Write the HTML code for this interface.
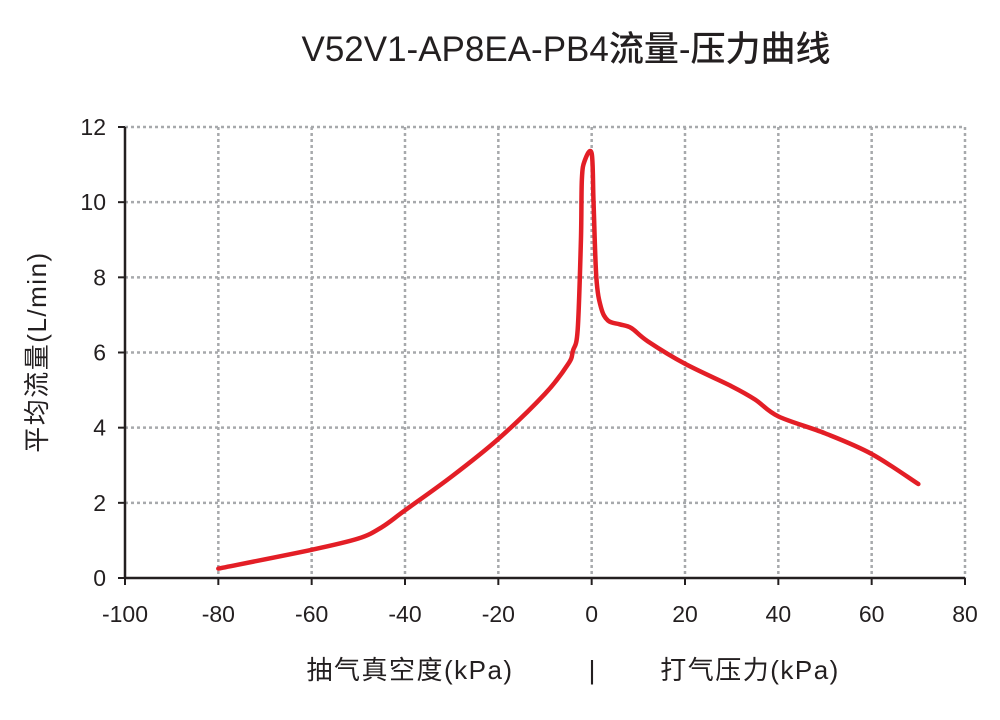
<!DOCTYPE html>
<html><head><meta charset="utf-8"><style>
body{margin:0;background:#fff}
svg text{font-family:"Liberation Sans","Noto Sans CJK SC",sans-serif;fill:#231f20}
</style></head><body>
<svg id="c" width="1000" height="715">
<text x="566" y="61" font-size="35" text-anchor="middle" font-weight="500">V52V1-AP8EA-PB4流量-压力曲线</text>
<g id="grid"></g><g id="axes"></g><g id="series"></g>
<text transform="translate(46,352) rotate(-90)" font-size="26" letter-spacing="1.5" text-anchor="middle">平均流量(L/min)</text>
<text x="410" y="679" font-size="26" letter-spacing="1.5" text-anchor="middle">抽气真空度(kPa)</text>
<text x="592" y="679" font-size="26" text-anchor="middle">|</text>
<text x="750" y="679" font-size="26" letter-spacing="1.5" text-anchor="middle">打气压力(kPa)</text>
</svg>
<script>
const xTicks=[-100,-80,-60,-40,-20,0,20,40,60,80];
const yTicks=[0,2,4,6,8,10,12];
const pressures=[-80,-60,-50,-45,-40,-30,-20,-10,-5,-4,-3,-2.3,-2.1,-1.5,0,0.4,1,2,3.5,6,8.5,12,20,30,35,40,50,60,70];
const flows=[0.25,0.75,1.05,1.35,1.8,2.7,3.7,4.9,5.7,6.05,6.6,9,10.6,11.1,11.3,10,8,7.2,6.85,6.75,6.65,6.3,5.7,5.1,4.75,4.3,3.85,3.3,2.5];
const NS='http://www.w3.org/2000/svg';
const X=v=>125+(v+100)*(965-125)/180;
const Y=v=>578-v*(578-127)/12;
function mk(t,a,p){const e=document.createElementNS(NS,t);for(const k in a)e.setAttribute(k,a[k]);p.appendChild(e);return e;}
const g=document.getElementById('grid'),ax=document.getElementById('axes'),s=document.getElementById('series');
xTicks.forEach(v=>{if(v>-100){const l=mk('line',{x1:X(v),x2:X(v),y1:Y(12),y2:Y(0),stroke:'#a7a9ac','stroke-width':2.5,'stroke-dasharray':'3 3'},g);

}
const tk=mk('line',{x1:X(v),x2:X(v),y1:578,y2:585,stroke:'#231f20','stroke-width':2},ax);


const t=mk('text',{x:X(v),y:622,'font-size':23,'text-anchor':'middle'},ax);t.textContent=v;

});
yTicks.forEach(v=>{if(v>0){const l=mk('line',{x1:X(-100),x2:X(80),y1:Y(v),y2:Y(v),stroke:'#a7a9ac','stroke-width':2.5,'stroke-dasharray':'3 3'},g);

}
const tk=mk('line',{x1:118,x2:125,y1:Y(v),y2:Y(v),stroke:'#231f20','stroke-width':2},ax);


const t=mk('text',{x:106,y:Y(v)+8,'font-size':23,'text-anchor':'end'},ax);t.textContent=v;

});
const xa=mk('line',{x1:125,x2:965,y1:578,y2:578,stroke:'#231f20','stroke-width':2.5},ax);


const ya=mk('line',{x1:125,x2:125,y1:127,y2:578,stroke:'#231f20','stroke-width':2.5},ax);


const P=pressures.map((p,i)=>[X(p),Y(flows[i])]);
let d='M'+P[0][0]+','+P[0][1];
for(let i=0;i<P.length-1;i++){const p0=P[Math.max(i-1,0)],p1=P[i],p2=P[i+1],p3=P[Math.min(i+2,P.length-1)];const k=0.5/3*1.0;
d+=` C${p1[0]+(p2[0]-p0[0])*k},${p1[1]+(p2[1]-p0[1])*k} ${p2[0]-(p3[0]-p1[0])*k},${p2[1]-(p3[1]-p1[1])*k} ${p2[0]},${p2[1]}`;}
const c=mk('path',{d:d,fill:'none',stroke:'#e31e26','stroke-width':4.5,'stroke-linejoin':'round','stroke-linecap':'round'},s);


</script>
</body></html>
